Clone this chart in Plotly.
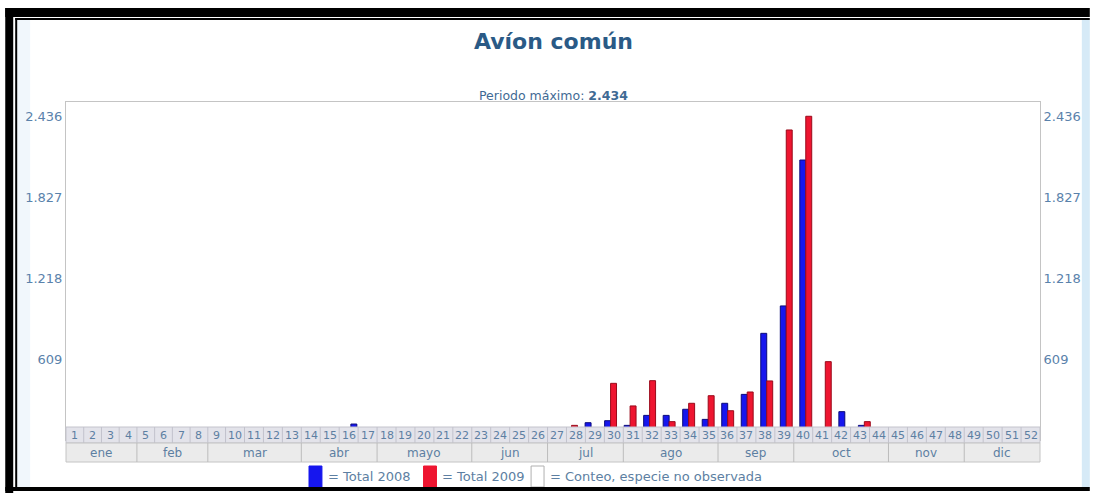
import plotly.graph_objects as go

# ---------------- data ----------------
weeks = list(range(1, 53))
week_labels = [str(w) for w in weeks]
months = ["ene", "feb", "mar", "abr", "mayo", "jun", "jul", "ago", "sep", "oct", "nov", "dic"]
month_weeks = [4, 4, 5, 4, 5, 4, 4, 5, 4, 5, 4, 4]

total_2008 = {17: 120, 29: 130, 30: 145, 31: 110, 32: 185, 33: 185, 34: 231, 35: 155,
              36: 276, 37: 343, 38: 802, 39: 1008, 40: 2105, 42: 213, 43: 110}
total_2009 = {28: 110, 30: 426, 31: 256, 32: 446, 33: 138, 34: 276, 35: 333, 36: 220,
              37: 361, 38: 444, 39: 2331, 40: 2434, 41: 589, 43: 138}
vals_2008 = [total_2008.get(w, 0) for w in weeks]
vals_2009 = [total_2009.get(w, 0) for w in weeks]

y_tickvals = [609, 1218, 1827, 2436]
y_ticktext = ["609", "1.218", "1.827", "2.436"]
title_text = "Avíon común"
subtitle_label = "Periodo máximo: "
subtitle_value = "2.434"
legend_items = [("= Total 2008", "#1616ee"), ("= Total 2009", "#ee1530"),
                ("= Conteo, especie no observada", "#ffffff")]

# ---------------- layout geometry (reference pixels) ----------------
W, H = 1093, 493
L, R = 66, 1044
T, B0 = 102, 440
PW, PH = R - L, B0 - T
Y_MAX = 2436 * PH / (B0 - 116)
X_RANGE = [2.1, 52.0]

def px(x):
    return (x - L) / PW

def py(y):
    return (B0 - y) / PH

BLUE, RED = "#1616ee", "#ee1530"
TXT = "#5d7fa2"
FONT = "DejaVu Sans"

fig = go.Figure()
fig.add_trace(go.Bar(x=weeks, y=vals_2008, name="Total 2008",
                     marker=dict(color=BLUE, line=dict(color="#0a0a7a", width=1))))
fig.add_trace(go.Bar(x=weeks, y=vals_2009, name="Total 2009",
                     marker=dict(color=RED, line=dict(color="#9a0a1a", width=1))))
fig.add_trace(go.Scatter(x=[weeks[-1]], y=[0], yaxis="y2", mode="markers",
                         marker=dict(opacity=0), showlegend=False, hoverinfo="skip"))

shapes = []
annotations = []

def rect(x0, y0, x1, y1, fill, line=None, lw=0, layer="above"):
    shapes.append(dict(type="rect", xref="paper", yref="paper",
                       x0=px(x0), x1=px(x1), y0=py(y1), y1=py(y0),
                       fillcolor=fill, line=dict(color=line or fill, width=lw), layer=layer))

def vline(x, y0, y1, color):
    shapes.append(dict(type="line", xref="paper", yref="paper", x0=px(x), x1=px(x),
                       y0=py(y1), y1=py(y0), line=dict(color=color, width=1), layer="above"))

def text(x, y, s, size, color=TXT, anchor="center"):
    annotations.append(dict(x=px(x), y=py(y), xref="paper", yref="paper", text=s,
                            showarrow=False, font=dict(family=FONT, size=size, color=color),
                            xanchor=anchor, yanchor="middle"))

# background tints
rect(1086, 20, 1094, 487, "#d6eaf7", layer="below")
rect(17, 20, 30, 487, "#f1f7fc", layer="below")

# week label table: HTML-like cells, width grows with label length
WY0, WY1, MY1 = 427, 443, 462
SINGLE = 17.8
n1 = sum(1 for s in week_labels if len(s) == 1)
DOUBLE = (PW - n1 * SINGLE) / (len(week_labels) - n1)
edges = [L]
for s in week_labels:
    edges.append(edges[-1] + (SINGLE if len(s) == 1 else DOUBLE))

rect(L, WY0, R, WY1, "#e3e3ea", "#c4c4cc", 1)
for i, s in enumerate(week_labels):
    if i > 0:
        vline(edges[i], WY0, WY1, "#c2c2cc")
    text((edges[i] + edges[i + 1]) / 2, (WY0 + WY1) / 2, s, 11)

# month row aligned with the week cells
rect(L, WY1, R, MY1, "#ebebeb", "#c4c4c4", 1)
k = 0
for m, n in zip(months, month_weeks):
    x0, x1 = edges[k], edges[k + n]
    if k > 0:
        vline(x0, WY1, MY1, "#bcbcbc")
    text((x0 + x1) / 2, (WY1 + MY1) / 2, m, 12)
    k += n

# legend (manual)
leg_x = [310, 425, 533]
for (lab, col), x0 in zip(legend_items, leg_x):
    rect(x0, 466, x0 + 13, 487, col, "#b0b0b0" if col == "#ffffff" else col, 1)
    text(x0 + 17, 476, lab, 13, anchor="left")

# title & subtitle
text(555, 42, "<b>" + title_text + "</b>", 22, color="#2a5a86")
text(555, 96, subtitle_label + "<b>" + subtitle_value + "</b>", 12.5, color="#3f6a94")

# black frame
rect(5, 8, 1094, 17, "#000000")
rect(15, 18, 1094, 20, "#000000")
rect(5, 8, 13, 493, "#000000")
rect(15, 18, 17, 487, "#000000")
rect(5, 487, 1094, 491, "#000000")

axis_font = dict(family=FONT, size=13, color="#5a82ab")
fig.update_layout(
    width=W, height=H,
    margin=dict(l=L, r=W - R, t=T, b=H - B0, pad=0),
    paper_bgcolor="#ffffff", plot_bgcolor="#ffffff",
    showlegend=False,
    barmode="group", bargap=0.39, bargroupgap=0,
    xaxis=dict(range=X_RANGE, showticklabels=False, ticks="", showgrid=False,
               zeroline=False, showline=True, linecolor="#c4c4c4", mirror=True),
    yaxis=dict(range=[0, Y_MAX], tickvals=y_tickvals, ticktext=y_ticktext, ticks="",
               showgrid=False, zeroline=False, showline=True, linecolor="#c4c4c4",
               tickfont=axis_font),
    yaxis2=dict(range=[0, Y_MAX], tickvals=y_tickvals, ticktext=y_ticktext, ticks="",
                showgrid=False, zeroline=False, overlaying="y", side="right",
                showline=True, linecolor="#c4c4c4", tickfont=axis_font),
    shapes=shapes, annotations=annotations,
)

fig.write_html("out.html", config={"displayModeBar": False},
               post_script="document.body.style.margin='0';document.body.style.overflow='hidden';")
